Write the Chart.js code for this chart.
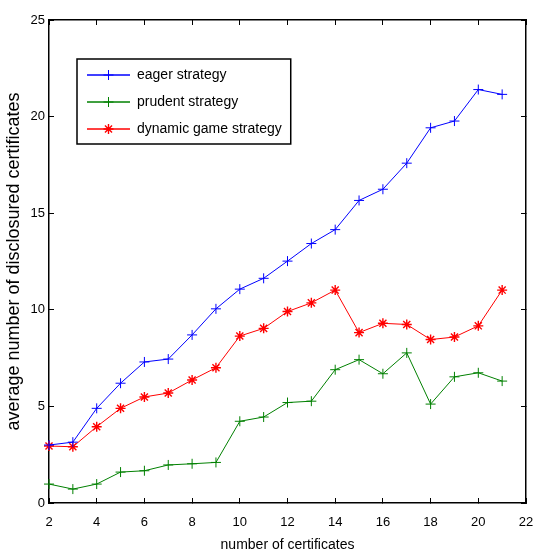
<!DOCTYPE html>
<html>
<head>
<meta charset="utf-8">
<title>disclosured certificates</title>
<script src="https://cdn.jsdelivr.net/npm/chart.js@4/dist/chart.umd.min.js"></script>
<style>
  html, body { margin: 0; padding: 0; background: #fff; }
  canvas { display: block; }
</style>
</head>
<body>
<canvas id="chart" width="534" height="554"></canvas>
<script>
const certificates = [2, 3, 4, 5, 6, 7, 8, 9, 10, 11, 12, 13, 14, 15, 16, 17, 18, 19, 20, 21];
const eager = [3.0, 3.15, 4.9, 6.2, 7.3, 7.45, 8.7, 10.05, 11.07, 11.63, 12.52, 13.43, 14.15, 15.66, 16.24, 17.59, 19.42, 19.77, 21.4, 21.15];
const prudent = [0.98, 0.72, 0.98, 1.6, 1.67, 1.97, 2.03, 2.1, 4.23, 4.45, 5.2, 5.27, 6.9, 7.42, 6.69, 7.77, 5.12, 6.53, 6.74, 6.31];
const dynamicGame = [2.95, 2.91, 3.95, 4.9, 5.49, 5.69, 6.37, 7.0, 8.64, 9.04, 9.91, 10.36, 11.02, 8.82, 9.3, 9.24, 8.46, 8.59, 9.17, 11.02];

const seriesNames = ["eager strategy", "prudent strategy", "dynamic game strategy"];
const seriesColors = ["#0000ff", "#008000", "#ff0000"];
const seriesMarkers = ["cross", "cross", "star"];

const xTickRange = [2, 22, 2];   // min, max, step
const yTickRange = [0, 25, 5];

const fontFamily = "'Liberation Sans', Arial, Helvetica, sans-serif";

function toPoints(values) {
  return certificates.map((x, i) => ({ x: x, y: values[i] }));
}

const datasets = [eager, prudent, dynamicGame].map((values, i) => ({
  label: seriesNames[i],
  data: toPoints(values),
  borderColor: seriesColors[i],
  backgroundColor: seriesColors[i],
  borderWidth: 1,
  pointStyle: seriesMarkers[i],
  pointRadius: 5,
  pointHoverRadius: 5,
  pointBorderWidth: i === 2 ? 1.4 : 1,
  pointBorderColor: seriesColors[i],
  tension: 0,
  clip: false
}));

// put the legend inside the axes and draw its frame and markers
const legendBoxPlugin = {
  id: "legendBox",
  afterLayout(chart) {
    const legend = chart.legend;
    legend.left = chart.chartArea.left + 25;
    legend.top = chart.chartArea.top + 35;
  },
  afterDraw(chart) {
    const legend = chart.legend;
    const boxes = legend.legendHitBoxes;
    if (!boxes || !boxes.length) return;
    const ctx = chart.ctx;
    const boxWidth = legend.options.labels.boxWidth;
    const fontSize = legend.options.labels.font.size;

    let right = 0;
    boxes.forEach(b => { right = Math.max(right, b.left + b.width); });
    const left = boxes[0].left - 10;
    const top = boxes[0].top - 9;
    const last = boxes[boxes.length - 1];
    const bottom = last.top + last.height + 8;

    ctx.save();
    ctx.strokeStyle = "#000";
    ctx.lineWidth = 1.5;
    ctx.strokeRect(left, top, right + 9 - left, bottom - top);

    boxes.forEach((b, i) => {
      const cx = b.left + boxWidth / 2;
      const cy = b.top + fontSize / 2;
      ctx.strokeStyle = seriesColors[i];
      ctx.fillStyle = seriesColors[i];
      ctx.lineWidth = i === 2 ? 1.4 : 1;
      if (Chart.helpers && Chart.helpers.drawPoint) {
        Chart.helpers.drawPoint(ctx, { pointStyle: seriesMarkers[i], radius: 5, rotation: 0, borderWidth: ctx.lineWidth }, cx, cy);
      } else {
        ctx.beginPath();
        ctx.moveTo(cx - 5, cy); ctx.lineTo(cx + 5, cy);
        ctx.moveTo(cx, cy - 5); ctx.lineTo(cx, cy + 5);
        ctx.stroke();
      }
    });
    ctx.restore();
  }
};

const tickFont = { family: fontFamily, size: 13 };

function frameAxis(position, size) {
  return {
    type: "linear",
    position: position,
    min: position === "top" ? xTickRange[0] : yTickRange[0],
    max: position === "top" ? xTickRange[1] : yTickRange[1],
    ticks: { display: false, stepSize: position === "top" ? xTickRange[2] : yTickRange[2] },
    grid: { display: true, drawOnChartArea: false, drawTicks: true, tickLength: -5, color: "#000", lineWidth: 1 },
    border: { display: true, color: "#000", width: 1.5 },
    afterFit(scale) {
      if (position === "top") scale.height = size; else scale.width = size;
      scale.paddingLeft = scale.paddingRight = scale.paddingTop = scale.paddingBottom = 0;
    }
  };
}

new Chart(document.getElementById("chart"), {
  type: "line",
  data: { datasets: datasets },
  options: {
    responsive: false,
    animation: false,
    layout: { padding: 0 },
    plugins: {
      legend: {
        position: "chartArea",
        align: "start",
        labels: {
          font: { family: fontFamily, size: 14 },
          color: "#000",
          boxWidth: 43,
          boxHeight: 0,
          padding: 13
        }
      },
      tooltip: { enabled: false }
    },
    scales: {
      x: {
        type: "linear",
        position: "bottom",
        min: xTickRange[0],
        max: xTickRange[1],
        ticks: { stepSize: xTickRange[2], color: "#000", font: tickFont, padding: 17, maxRotation: 0 },
        grid: { display: true, drawOnChartArea: false, drawTicks: true, tickLength: -5, color: "#000", lineWidth: 1 },
        border: { display: true, color: "#000", width: 1.5 },
        title: {
          display: true,
          text: "number of certificates",
          color: "#000",
          font: { family: fontFamily, size: 14 },
          padding: { top: 0, bottom: 0 }
        },
        afterFit(scale) {
          scale.height = 51;
          scale.paddingLeft = 0;
          scale.paddingRight = 0;
        }
      },
      y: {
        type: "linear",
        position: "left",
        min: yTickRange[0],
        max: yTickRange[1],
        ticks: { stepSize: yTickRange[2], color: "#000", font: tickFont, padding: 9 },
        grid: { display: true, drawOnChartArea: false, drawTicks: true, tickLength: -5, color: "#000", lineWidth: 1 },
        border: { display: true, color: "#000", width: 1.5 },
        title: {
          display: true,
          text: "average number of disclosured certificates",
          color: "#000",
          font: { family: fontFamily, size: 18 },
          padding: { top: 3, bottom: 0 }
        },
        afterFit(scale) {
          scale.width = 49;
          scale.paddingTop = 0;
          scale.paddingBottom = 0;
        }
      },
      x2: frameAxis("top", 20),
      y2: frameAxis("right", 8)
    }
  },
  plugins: [legendBoxPlugin]
});
</script>
</body>
</html>
